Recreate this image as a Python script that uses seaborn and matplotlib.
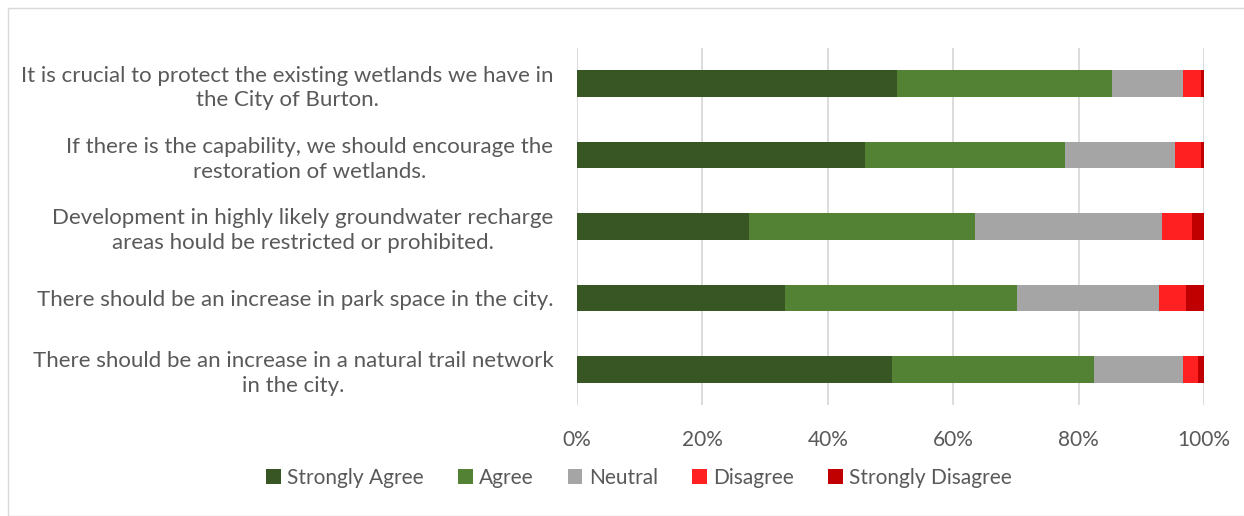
import matplotlib
matplotlib.use("Agg")
import matplotlib.pyplot as plt
from matplotlib.patches import Patch, Rectangle
import seaborn as sns
import pandas as pd
import numpy as np

categories = [
    "It is crucial to protect the existing wetlands we have in\nthe City of Burton.",
    "If there is the capability, we should encourage the\nrestoration of wetlands.",
    "Development in highly likely groundwater recharge\nareas hould be restricted or prohibited.",
    "There should be an increase in park space in the city.",
    "There should be an increase in a natural trail network\nin the city.",
]
series_names = ["Strongly Agree", "Agree", "Neutral", "Disagree", "Strongly Disagree"]
strongly_agree = [51.0, 45.9, 27.4, 33.1, 50.3]
agree = [34.4, 32.0, 36.0, 37.0, 32.2]
neutral = [11.3, 17.4, 29.9, 22.8, 14.2]
disagree = [2.8, 4.2, 4.8, 4.2, 2.3]
strongly_disagree = [0.5, 0.5, 1.9, 2.9, 1.0]
tick_labels = ["0%", "20%", "40%", "60%", "80%", "100%"]

colors = ["#375623", "#548235", "#A5A5A5", "#FF2121", "#C00000"]

sns.set_style("white")
plt.rcParams["font.family"] = ["Lato", "DejaVu Sans"]
text_color = "#595959"
fs_y = 16
fs = 15

df = pd.DataFrame({
    "cat": categories,
    "Strongly Agree": strongly_agree,
    "Agree": agree,
    "Neutral": neutral,
    "Disagree": disagree,
    "Strongly Disagree": strongly_disagree,
})
vals = df[series_names].to_numpy()
vals = vals / vals.sum(axis=1, keepdims=True) * 100
cum = np.cumsum(vals, axis=1)

fig = plt.figure(figsize=(12.44, 5.16), dpi=100)
ax = fig.add_axes([577 / 1244, 1 - 405 / 516, (1204 - 577) / 1244, (405 - 48) / 516])

for i in range(len(series_names) - 1, -1, -1):
    d = pd.DataFrame({"cat": categories, "v": cum[:, i]})
    sns.barplot(data=d, x="v", y="cat", orient="h", color=colors[i],
                saturation=1, width=0.37, ax=ax, edgecolor="none", linewidth=0)

ax.set_xlim(0, 100)
ax.set_ylim(4.5, -0.5)
ax.set_xticks(np.arange(0, 101, 20))
ax.set_xticklabels(tick_labels, fontsize=fs, color=text_color)
ax.tick_params(axis="x", length=0, pad=18)
ax.tick_params(axis="y", length=0, pad=17)
for lab in ax.get_yticklabels():
    lab.set_fontsize(fs_y)
    lab.set_color(text_color)
    lab.set_multialignment("center")
    lab.set_linespacing(1.28)
ax.set_xlabel("")
ax.set_ylabel("")
ax.grid(axis="x", color="#D9D9D9", linewidth=1.3)
ax.set_axisbelow(True)
for s in ax.spines.values():
    s.set_visible(False)

handles = [Patch(facecolor=c, edgecolor="none") for c in colors]
fig.legend(handles, series_names, loc="center", bbox_to_anchor=(639 / 1244, 1 - 478 / 516),
           ncol=5, frameon=False, fontsize=fs, labelcolor=text_color,
           handlelength=0.7, handleheight=0.7, handletextpad=0.3, columnspacing=1.65)

fig.patches.append(Rectangle((8 / 1244, 0.0), 1.2, 1 - 8 / 516, transform=fig.transFigure,
                             fill=False, edgecolor="#D9D9D9", linewidth=1.0))

fig.savefig("out.png", dpi=100, facecolor="white")
